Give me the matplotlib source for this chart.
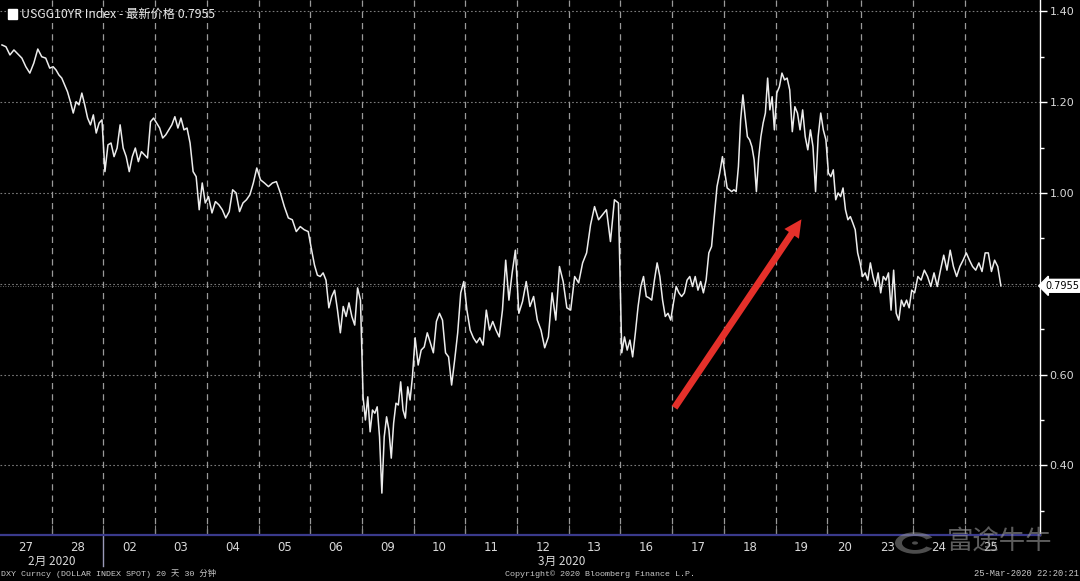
import matplotlib
matplotlib.use("Agg")
import matplotlib.pyplot as plt
import matplotlib.transforms as mtransforms
from matplotlib.patches import FancyArrowPatch, Rectangle, Wedge, Circle
import numpy as np

# ---------------- data ----------------
day_labels = ["27", "28", "02", "03", "04", "05", "06", "09", "10", "11",
              "12", "13", "16", "17", "18", "19", "20", "23", "24", "25"]
session_len = [1, 1, 1, 1, 1, 1, 1, 1, 1, 1, 1, 1, 1, 1, 1, 1, 0.66, 1, 1, 0.73]

d27 = [1.326, 1.322, 1.304, 1.315, 1.306, 1.297, 1.278, 1.264, 1.286, 1.317, 1.300, 1.297, 1.275]
d28 = [1.278, 1.271, 1.260, 1.253, 1.238, 1.223, 1.201, 1.176, 1.201, 1.194, 1.220, 1.194, 1.165,
       1.150, 1.172, 1.132, 1.154, 1.161]
d02 = [1.047, 1.106, 1.110, 1.080, 1.099, 1.150, 1.099, 1.080, 1.047, 1.080, 1.099, 1.069, 1.091,
       1.084, 1.077, 1.157, 1.165]
d03 = [1.154, 1.143, 1.121, 1.128, 1.139, 1.150, 1.168, 1.143, 1.165, 1.139, 1.143, 1.110, 1.047,
       1.036, 0.963, 1.022, 0.978]
d04 = [0.992, 0.956, 0.981, 0.974, 0.963, 0.945, 0.959, 1.007, 1.000, 0.959, 0.978, 0.985, 0.996,
       1.022, 1.055]
d05 = [1.029, 1.022, 1.014, 1.022, 1.025, 1.000, 0.970, 0.945, 0.941, 0.915, 0.926, 0.919, 0.915]
d06 = [0.874, 0.841, 0.819, 0.816, 0.824, 0.808, 0.747, 0.772, 0.786, 0.742, 0.692, 0.750, 0.728,
       0.758, 0.728, 0.709, 0.791, 0.764]
d09 = [0.551, 0.500, 0.551, 0.474, 0.522, 0.515, 0.529, 0.463, 0.339, 0.463, 0.507, 0.478, 0.416,
       0.493, 0.537, 0.533, 0.584, 0.522, 0.504, 0.573, 0.544, 0.595]
d10 = [0.681, 0.621, 0.654, 0.661, 0.692, 0.670, 0.648, 0.717, 0.735, 0.720, 0.648, 0.639, 0.577,
       0.632, 0.692, 0.780, 0.805]
d11 = [0.742, 0.698, 0.681, 0.670, 0.681, 0.665, 0.742, 0.698, 0.717, 0.698, 0.683, 0.742, 0.852,
       0.764, 0.824, 0.874]
d12 = [0.735, 0.761, 0.805, 0.750, 0.772, 0.720, 0.698, 0.659, 0.683, 0.780, 0.720, 0.838, 0.805,
       0.747]
d13 = [0.742, 0.816, 0.802, 0.846, 0.868, 0.930, 0.970, 0.941, 0.952, 0.963, 0.893, 0.985, 0.978]
d16 = [0.648, 0.683, 0.654, 0.676, 0.639, 0.692, 0.750, 0.794, 0.816, 0.772, 0.769, 0.764, 0.808,
       0.846, 0.816, 0.764, 0.728, 0.735, 0.720]
d17 = [0.758, 0.794, 0.780, 0.772, 0.780, 0.808, 0.816, 0.794, 0.816, 0.786, 0.805, 0.780, 0.808,
       0.868, 0.882, 0.948, 1.014, 1.044, 1.080]
d18 = [1.044, 1.011, 1.007, 1.003, 1.007, 1.003, 1.058, 1.161, 1.216, 1.168, 1.124, 1.117, 1.102,
       1.073, 1.003, 1.077, 1.124, 1.154, 1.176, 1.253, 1.183, 1.212, 1.139]
d19 = [1.220, 1.234, 1.264, 1.249, 1.253, 1.227, 1.135, 1.190, 1.176, 1.139, 1.183, 1.124, 1.095,
       1.139, 1.102, 1.003, 1.124, 1.176, 1.139, 1.117]
d20 = [1.044, 1.036, 1.051, 0.985, 1.000, 0.992, 1.011, 0.963, 0.941, 0.948, 0.934, 0.919, 0.868,
       0.846]
d23 = [0.816, 0.824, 0.808, 0.846, 0.816, 0.794, 0.824, 0.780, 0.816, 0.808, 0.824, 0.742, 0.830,
       0.735, 0.720, 0.764, 0.750, 0.764, 0.747, 0.786]
d24 = [0.780, 0.816, 0.808, 0.830, 0.816, 0.794, 0.824, 0.794, 0.830, 0.863, 0.830, 0.874, 0.838,
       0.816, 0.838, 0.852]
d25 = [0.868, 0.852, 0.838, 0.830, 0.846, 0.827, 0.868, 0.868, 0.827, 0.852, 0.838, 0.7955]

days = [d27, d28, d02, d03, d04, d05, d06, d09, d10, d11,
        d12, d13, d16, d17, d18, d19, d20, d23, d24, d25]
last_price = 0.7955
y_ticks = [0.40, 0.60, 0.80, 1.00, 1.20, 1.40]
months = ["2月 2020", "3月 2020"]

# ---------------- layout helpers ----------------
CJK = ["Noto Sans CJK SC", "DejaVu Sans"]
MONO = ["Liberation Mono", "Noto Sans CJK SC"]

starts = np.concatenate([[0], np.cumsum(session_len)[:-1]])
xs, ys = [], []
for s, L, vals in zip(starts, session_len, days):
    n = len(vals)
    xs.extend(s + (np.arange(n) + 0.5) / n * L)
    ys.extend(vals)

W, H = 1080, 581
fig = plt.figure(figsize=(W / 100, H / 100), dpi=100, facecolor="black")
ax_left, ax_right = 0.0, 1040 / W
ax_bottom = (H - 535) / H
ax = fig.add_axes([ax_left, ax_bottom, ax_right - ax_left, 1 - ax_bottom], facecolor="black")

px_per_day = 51.7
ax.set_xlim(0, 1040 / px_per_day)
ax.set_ylim(0.2467, 1.425)

# gridlines
for yv in y_ticks:
    ax.axhline(yv, color="#7a7a7a", lw=0.8, ls=(0, (1.5, 2.0)), zorder=1)
boundaries = starts[1:]
for b in boundaries:
    ax.axvline(b, color="#9a9a9a", lw=0.9, ls=(0, (5, 4)), zorder=1)

# series
ax.plot(xs, ys, color="#ececec", lw=1.1, zorder=3)

# spines
for sp in ["top", "left"]:
    ax.spines[sp].set_visible(False)
ax.spines["right"].set_color("white")
ax.spines["right"].set_linewidth(1.0)
ax.spines["bottom"].set_color("#3a3a8c")
ax.spines["bottom"].set_linewidth(1.6)

# y axis on right (the 0.80 label is covered by the last-price tag)
ax.yaxis.tick_right()
ax.set_yticks(y_ticks)
ax.set_yticklabels(["" if abs(v - 0.8) < 1e-9 else f"{v:.2f}" for v in y_ticks])
ax.set_yticks(np.arange(0.3, 1.41, 0.2), minor=True)
ax.tick_params(axis="y", which="major", direction="out", length=5, width=1,
               color="white", labelcolor="#d8d8d8", labelsize=8, pad=2)
ax.tick_params(axis="y", which="minor", direction="out", length=3, width=1, color="white")
for lab in ax.get_yticklabels():
    lab.set_family("DejaVu Sans")

# x axis: boundaries as ticks, labels centered
ax.set_xticks(boundaries)
ax.set_xticklabels([])
ax.tick_params(axis="x", which="major", direction="in", length=7, width=0.8, color="#8a8a8a")
centers = starts + np.array(session_len) / 2
centers[-1] = starts[-1] + 0.5
ax.set_xticks(centers, minor=True)
ax.set_xticklabels(day_labels, minor=True)
ax.tick_params(axis="x", which="minor", length=0, labelcolor="#d8d8d8", labelsize=8.5, pad=4)

# month labels & divider
trans = mtransforms.blended_transform_factory(ax.transData, fig.transFigure)
fig.text(52 / W, 1 - 561 / H, months[0], color="#d8d8d8", fontsize=8.5, family=CJK,
         ha="center", va="center")
fig.text(562 / W, 1 - 561 / H, months[1], color="#d8d8d8", fontsize=8.5, family=CJK,
         ha="center", va="center")
ax.plot([boundaries[1], boundaries[1]], [1 - 535 / H, 1 - 566 / H], transform=trans,
        color="#9a9ab8", lw=1.0, clip_on=False)

# price label box
ax.annotate(f"{last_price:.4f}", xy=(1.0, last_price), xycoords=("axes fraction", "data"),
            xytext=(4, 0), textcoords="offset points", va="center", ha="left",
            fontsize=7.0, color="black", family="DejaVu Sans",
            bbox=dict(boxstyle="larrow,pad=0.15", fc="white", ec="white"), annotation_clip=False)
ax.axhline(last_price, color="#8a8a8a", lw=0.6, ls=(0, (1, 2)), zorder=1)

# legend
fig.patches.append(Rectangle((8 / W, 1 - 19 / H), 9 / W, 10 / H, transform=fig.transFigure,
                             fc="white", ec="white"))
fig.text(21 / W, 1 - 14 / H, f"USGG10YR Index - 最新价格 {last_price:.4f}", color="#e8e8e8",
         fontsize=8.8, family=CJK, ha="left", va="center")

# red arrow
arr = FancyArrowPatch((673 / px_per_day, 0.522), (803 / px_per_day, 0.947),
                      arrowstyle="simple,head_length=0.9,head_width=0.9,tail_width=0.35",
                      mutation_scale=14, color="#e5302a", lw=0, zorder=5)
ax.add_patch(arr)

# footer
fig.text(1 / W, 1 - 574 / H, "DXY Curncy (DOLLAR INDEX SPOT) 20 天 30 分钟", color="#c8c8c8",
         fontsize=6.0, family=MONO, ha="left", va="center")
fig.text(505 / W, 1 - 574 / H, "Copyright© 2020 Bloomberg Finance L.P.", color="#c8c8c8",
         fontsize=6.0, family=MONO, ha="left", va="center")
fig.text(1079 / W, 1 - 574 / H, "25-Mar-2020 22:20:21", color="#c8c8c8",
         fontsize=6.3, family=MONO, ha="right", va="center")

# watermark
fig.text(1000 / W, 1 - 542 / H, "富途牛牛", color="#9a9a9a", alpha=0.6, fontsize=19,
         family=CJK, ha="center", va="center", zorder=0)
fig.patches.append(Wedge((915 / W, 1 - 543 / H), 20 / W, 30, 330, width=7 / W,
                         transform=fig.transFigure, fc="#9a9a9a", alpha=0.5, ec="none"))
fig.patches.append(Circle((915 / W, 1 - 543 / H), 3 / W, transform=fig.transFigure,
                          fc="#9a9a9a", alpha=0.5, ec="none"))

fig.savefig("out.png", dpi=100, facecolor="black")
